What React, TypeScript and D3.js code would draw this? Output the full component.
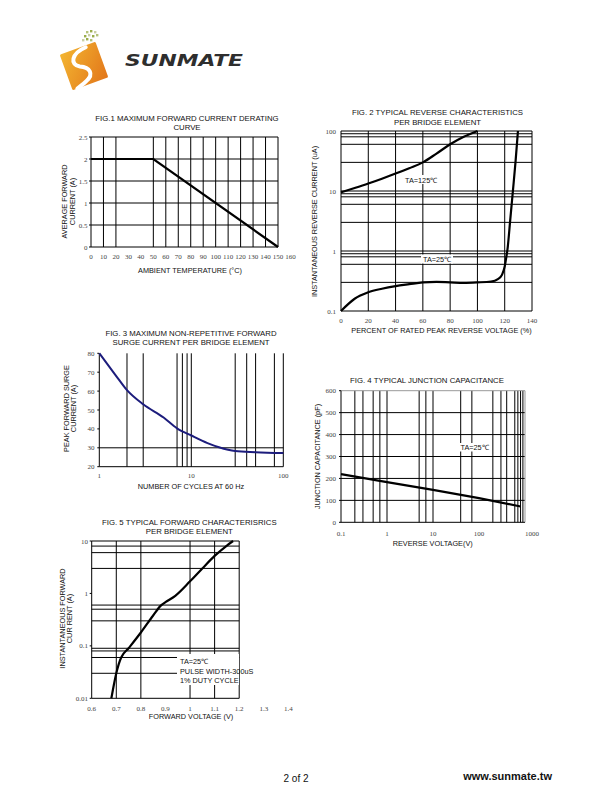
import React from 'react';
import * as d3 from 'd3';

// ---------- data ----------
// Fig.1 derating curve
const fig1Temp = [0, 50, 150];
const fig1Current = [2, 2, 0];
const fig1XTicks = [0, 10, 20, 30, 40, 50, 60, 70, 80, 90, 100, 110, 120, 130, 140, 150, 160];
const fig1YTicks = [0, 0.5, 1, 1.5, 2, 2.5];
const fig1XGrid = [10, 20, 50, 60, 70, 80, 90, 100, 110, 120, 130, 140, 150];

// Fig.2 reverse characteristics
const fig2HotVoltage = [0, 10, 20, 30, 40, 50, 60, 70, 80, 90, 100];
const fig2HotCurrent = [9.5, 11.2, 13.3, 16, 19.5, 24, 30, 42, 60, 80, 100];
const fig2ColdVoltage = [0, 10, 20, 30, 40, 50, 60, 70, 80, 90, 100, 110, 115, 118, 120, 121, 122, 124, 126, 128, 129.7];
const fig2ColdCurrent = [0.1, 0.16, 0.205, 0.235, 0.26, 0.28, 0.3, 0.305, 0.3, 0.295, 0.3, 0.31, 0.34, 0.4, 0.55, 0.75, 1.05, 3.2, 10, 32, 100];
const fig2XTicks = [0, 20, 40, 60, 80, 100, 120, 140];
const fig2YTicks = [0.1, 1, 10, 100];
const fig2YGrid = [0.3, 0.6, 0.8, 0.9, 1, 3, 6, 8, 9, 10, 30, 60, 80, 90, 100];

// Fig.3 surge current
const fig3Cycles = [1, 1.5, 2, 3, 5, 7, 10, 15, 20, 30, 50, 100];
const fig3Current = [80, 68.5, 60.5, 53, 46, 40.3, 36.5, 32.5, 30.3, 28.3, 27.7, 27.2];
const fig3XTicks = [1, 10, 100];
const fig3YTicks = [20, 30, 40, 50, 60, 70, 80];
const fig3XGrid = [2, 3, 7, 8, 9, 10, 30, 40, 50, 80, 100];

// Fig.4 junction capacitance
const fig4Voltage = [0.1, 1, 10, 100, 800];
const fig4Cap = [220, 183, 148, 110, 72];
const fig4XTicks = [0.1, 1, 10, 100, 1000];
const fig4YTicks = [0, 100, 200, 300, 400, 500, 600];
const fig4XGrid = [0.2, 0.3, 0.5, 0.7, 1, 5, 7, 10, 40, 70, 200, 300, 400, 600, 700, 800, 900];

// Fig.5 forward characteristics
const fig5Voltage = [0.68, 0.69, 0.7, 0.71, 0.72, 0.75, 0.8, 0.85, 0.88, 0.9, 0.94, 1.0, 1.05, 1.1, 1.15, 1.175];
const fig5Current = [0.01, 0.018, 0.03, 0.045, 0.06, 0.09, 0.18, 0.38, 0.58, 0.68, 0.9, 1.7, 3, 5.2, 8.2, 10];
const fig5XTicks = [0.6, 0.7, 0.8, 0.9, 1, 1.1, 1.2, 1.3, 1.4];
const fig5YTicks = [0.01, 0.1, 1, 10];
const fig5XGrid = [0.7, 0.8, 1.0, 1.1, 1.2];
const fig5YGrid = [0.03, 0.06, 0.08, 0.09, 0.3, 0.5, 0.6, 3, 6, 8, 10];

const SANS = '"Liberation Sans", Arial, Helvetica, sans-serif';
const SERIF = '"Liberation Serif", "Times New Roman", serif';
const TICK = { fontFamily: SERIF, fontSize: 7, fill: '#444' };
const TITLE = { fontFamily: SANS, fontSize: 7.8, fill: '#111' };
const AXT = 7.3;

type Scale = (v: number) => number;

const vGrid = (x: Scale, vals: number[], y0: number, y1: number, key: string, stroke = '#000') =>
  vals.map((v, i) => (
    <line key={key + i} x1={x(v)} x2={x(v)} y1={y0} y2={y1} stroke={stroke} strokeWidth={1} />
  ));

const hGrid = (y: Scale, vals: number[], x0: number, x1: number, key: string, stroke = '#000') =>
  vals.map((v, i) => (
    <line key={key + i} x1={x0} x2={x1} y1={y(v)} y2={y(v)} stroke={stroke} strokeWidth={1} />
  ));

const yTitle = (lines: string[], x: number, y: number, gap = 8.5) =>
  lines.map((t, i) => (
    <text key={t} transform={`translate(${x + i * gap},${y}) rotate(-90)`} textAnchor="middle" {...TITLE} fontSize={AXT}>
      {t}
    </text>
  ));

const fmt = (v: number) => String(v);

function Fig1() {
  const x = d3.scaleLinear().domain([0, 150]).range([91, 278]);
  const y = d3.scaleLinear().domain([0, 2.5]).range([247, 137]);
  const line = d3.line<number>().x((_, i) => x(fig1Temp[i])).y(d => y(d));
  return (
    <g>
      <text x={187} y={121} textAnchor="middle" {...TITLE}>FIG.1 MAXIMUM FORWARD CURRENT DERATING</text>
      <text x={187} y={129.5} textAnchor="middle" {...TITLE}>CURVE</text>
      {vGrid(x, fig1XGrid, y(2.5), y(0), 'f1v')}
      {hGrid(y, fig1YTicks, x(0), x(150), 'f1h')}
      <line x1={x(0)} x2={x(0)} y1={y(2.5)} y2={y(0)} stroke="#000" />
      {fig1YTicks.map(v => (
        <g key={'f1yt' + v}>
          <line x1={x(0) - 2} x2={x(0)} y1={y(v)} y2={y(v)} stroke="#000" />
          <text x={87.5} y={y(v) + 2.5} textAnchor="end" {...TICK}>{fmt(v)}</text>
        </g>
      ))}
      {fig1XTicks.map(v => (
        <text key={'f1xt' + v} x={x(v)} y={258.5} textAnchor="middle" {...TICK}>{fmt(v)}</text>
      ))}
      <path d={line(fig1Current) || ''} fill="none" stroke="#000" strokeWidth={2.2} />
      <text x={190} y={272.5} textAnchor="middle" {...TITLE} fontSize={AXT}>AMBIENT TEMPERATURE (°C)</text>
      {yTitle(['AVERAGE FORWARD', 'CURRENT (A)'], 66.5, 201.5)}
    </g>
  );
}

function Fig2() {
  const x = d3.scaleLinear().domain([0, 140]).range([341, 532]);
  const y = d3.scaleLog().domain([0.1, 100]).range([311, 131]);
  const curve = (xs: number[]) =>
    d3.line<number>().x((_, i) => x(xs[i])).y(d => y(d)).curve(d3.curveMonotoneX);
  return (
    <g>
      <text x={437.5} y={115} textAnchor="middle" {...TITLE}>FIG. 2 TYPICAL REVERSE CHARACTERISTICS</text>
      <text x={437.5} y={125} textAnchor="middle" {...TITLE}>PER BRIDGE ELEMENT</text>
      {vGrid(x, fig2XTicks.slice(1), y(100), y(0.1), 'f2v')}
      {hGrid(y, fig2YGrid, x(0), x(140), 'f2h')}
      <line x1={x(0)} x2={x(0)} y1={y(100)} y2={y(0.1)} stroke="#000" />
      <line x1={x(0)} x2={x(140)} y1={y(0.1)} y2={y(0.1)} stroke="#000" />
      {fig2YTicks.map(v => (
        <text key={'f2yt' + v} x={336} y={y(v) + 2.5} textAnchor="end" {...TICK}>{fmt(v)}</text>
      ))}
      {fig2XTicks.map(v => (
        <text key={'f2xt' + v} x={x(v)} y={322.5} textAnchor="middle" {...TICK}>{fmt(v)}</text>
      ))}
      <path d={curve(fig2HotVoltage)(fig2HotCurrent) || ''} fill="none" stroke="#000" strokeWidth={2.2} />
      <path d={curve(fig2ColdVoltage)(fig2ColdCurrent) || ''} fill="none" stroke="#000" strokeWidth={2.2} />
      <rect x={403} y={175} width={35} height={9} fill="#fff" />
      <text x={405} y={182.5} {...TITLE} fontSize={AXT}>TA=125℃</text>
      <rect x={421} y={254.5} width={32} height={9} fill="#fff" />
      <text x={423} y={262} {...TITLE} fontSize={AXT}>TA=25℃</text>
      <text x={441.5} y={332.7} textAnchor="middle" {...TITLE} fontSize={AXT}>PERCENT OF RATED PEAK REVERSE VOLTAGE (%)</text>
      {yTitle(['INSTANTANEOUS  REVERSE CURRENT (uA)'], 317, 221.5)}
    </g>
  );
}

function Fig3() {
  const x = d3.scaleLog().domain([1, 100]).range([99.3, 283.3]);
  const y = d3.scaleLinear().domain([20, 80]).range([466.7, 353.3]);
  const line = d3.line<number>().x((_, i) => x(fig3Cycles[i])).y(d => y(d)).curve(d3.curveMonotoneX);
  return (
    <g>
      <text x={191} y={336} textAnchor="middle" {...TITLE}>FIG. 3 MAXIMUM  NON-REPETITIVE FORWARD</text>
      <text x={191} y={344.5} textAnchor="middle" {...TITLE}>SURGE CURRENT PER BRIDGE ELEMENT</text>
      {vGrid(x, fig3XGrid, y(80), y(20), 'f3v')}
      {hGrid(y, [30], x(1), x(100), 'f3h')}
      <line x1={x(1)} x2={x(1)} y1={y(80)} y2={y(20)} stroke="#000" />
      <line x1={x(1)} x2={x(100)} y1={y(20)} y2={y(20)} stroke="#000" />
      {fig3YTicks.map(v => (
        <g key={'f3yt' + v}>
          <line x1={x(1) - 2} x2={x(1)} y1={y(v)} y2={y(v)} stroke="#000" />
          <text x={94.5} y={y(v) + 2.5} textAnchor="end" {...TICK}>{fmt(v)}</text>
        </g>
      ))}
      {fig3XTicks.map(v => (
        <text key={'f3xt' + v} x={x(v)} y={478} textAnchor="middle" {...TICK}>{fmt(v)}</text>
      ))}
      <path d={line(fig3Current) || ''} fill="none" stroke="#1c1c7c" strokeWidth={2} />
      <text x={191} y={489.3} textAnchor="middle" {...TITLE} fontSize={AXT}>NUMBER OF CYCLES AT 60 Hz</text>
      {yTitle(['PEAK FORWARD SURGE', 'CURRENT (A)'], 68.5, 408.5, 7.5)}
    </g>
  );
}

function Fig4() {
  const x = d3.scaleLog().domain([0.1, 1000]).range([341, 525]);
  const y = d3.scaleLinear().domain([0, 600]).range([522.3, 390.7]);
  const line = d3.line<number>().x((_, i) => x(fig4Voltage[i])).y(d => y(d));
  return (
    <g>
      <text x={427} y={382.7} textAnchor="middle" {...TITLE}>FIG. 4 TYPICAL JUNCTION CAPACITANCE</text>
      {vGrid(x, fig4XGrid, y(600), y(0), 'f4v')}
      {hGrid(y, fig4YTicks.slice(1, -1), x(0.1), x(1000), 'f4h')}
      <line x1={x(0.1)} x2={x(1000)} y1={y(600)} y2={y(600)} stroke="#999" />
      <line x1={x(1000)} x2={x(1000)} y1={y(600)} y2={y(0)} stroke="#999" />
      <line x1={x(0.1)} x2={x(0.1)} y1={y(600)} y2={y(0)} stroke="#000" />
      <line x1={x(0.1)} x2={x(1000)} y1={y(0)} y2={y(0)} stroke="#000" />
      {fig4YTicks.map(v => (
        <g key={'f4yt' + v}>
          <line x1={x(0.1) - 2} x2={x(0.1)} y1={y(v)} y2={y(v)} stroke="#000" />
          <text x={336} y={y(v) + 2.5} textAnchor="end" {...TICK}>{fmt(v)}</text>
        </g>
      ))}
      {fig4XTicks.map(v => (
        <text key={'f4xt' + v} x={v === 1000 ? x(v) + 7 : x(v)} y={535.7} textAnchor="middle" {...TICK}>{fmt(v)}</text>
      ))}
      <path d={line(fig4Cap) || ''} fill="none" stroke="#000" strokeWidth={2.2} />
      <rect x={459} y={443} width={30} height={8.5} fill="#fff" />
      <text x={460.5} y={450} {...TITLE} fontSize={AXT}>TA=25℃</text>
      <text x={432.7} y={546.3} textAnchor="middle" {...TITLE} fontSize={AXT}>REVERSE VOLTAGE(V)</text>
      {yTitle(['JUNCTION CAPACITANCE (pF)'], 320, 456.5)}
    </g>
  );
}

function Fig5() {
  const x = d3.scaleLinear().domain([0.6, 1.2]).range([91.7, 239.2]);
  const y = d3.scaleLog().domain([0.01, 10]).range([698.3, 541]);
  const line = d3.line<number>().x((_, i) => x(fig5Voltage[i])).y(d => y(d)).curve(d3.curveMonotoneX);
  return (
    <g>
      <text x={189.3} y={525} textAnchor="middle" {...TITLE}>FIG. 5 TYPICAL FORWARD CHARACTERISRICS</text>
      <text x={189.3} y={534} textAnchor="middle" {...TITLE}>PER BRIDGE ELEMENT</text>
      {vGrid(x, fig5XGrid, y(10), y(0.01), 'f5v')}
      {hGrid(y, fig5YGrid, x(0.6), x(1.2), 'f5h')}
      <line x1={x(0.6)} x2={x(0.6)} y1={y(10)} y2={y(0.01)} stroke="#000" />
      <line x1={x(0.6)} x2={x(1.2)} y1={y(0.01)} y2={y(0.01)} stroke="#000" />
      {fig5YTicks.map(v => (
        <g key={'f5yt' + v}>
          <line x1={x(0.6) - 2} x2={x(0.6)} y1={y(v)} y2={y(v)} stroke="#000" />
          <text x={88} y={y(v) + 2.5} textAnchor="end" {...TICK}>{fmt(v)}</text>
        </g>
      ))}
      {fig5XTicks.map(v => (
        <text key={'f5xt' + v} x={x(v)} y={711} textAnchor="middle" {...TICK}>{fmt(v)}</text>
      ))}
      <rect x={177} y={654} width={62} height={31} fill="#fff" />
      <path d={line(fig5Current) || ''} fill="none" stroke="#000" strokeWidth={2.2} />
      <text x={180} y={664} {...TITLE} fontSize={AXT}>TA=25℃</text>
      <text x={180} y={673.5} {...TITLE} fontSize={AXT}>PULSE WIDTH-300uS</text>
      <text x={180} y={683} {...TITLE} fontSize={AXT}>1% DUTY CYCLE</text>
      <text x={191} y={719.3} textAnchor="middle" {...TITLE} fontSize={AXT}>FORWARD VOLTAGE (V)</text>
      {yTitle(['INSTANTANEOUS FORWARD', 'CUR RENT (A)'], 64.5, 618.5, 7)}
    </g>
  );
}

function Logo() {
  const dots = [
    [86, 31, '#b5c27a'], [90, 30, '#9aad4a'], [94, 31, '#c9cfa5'],
    [84, 35, '#9aad4a'], [88, 34, '#c9cfa5'], [92, 35, '#9aad4a'], [96, 34, '#b5c27a'],
    [82, 39, '#c9cfa5'], [86, 38, '#9aad4a'], [90, 39, '#b5c27a'],
  ] as [number, number, string][];
  return (
    <g>
      <defs>
        <linearGradient id="logoGrad" x1="0" y1="0" x2="1" y2="1">
          <stop offset="0" stopColor="#f3b531" />
          <stop offset="1" stopColor="#e2761a" />
        </linearGradient>
      </defs>
      {dots.map(([cx, cy, c], i) => (
        <rect key={'d' + i} x={cx} y={cy} width={2.4} height={2.4} fill={c} />
      ))}
      <g transform="translate(84,66) rotate(-20)">
        <rect x={-19} y={-19} width={38} height={38} rx={1.5} fill="url(#logoGrad)" />
        <path d="M 8 -17 C -8 -16, -13 -6, -4 -1 C 5 3, 7 11, -3 15 C -7 17, -12 18, -14 19"
          fill="none" stroke="#fff" strokeWidth={4} strokeLinecap="round" />
      </g>
      <text x={125} y={66} fontFamily='"DejaVu Sans", sans-serif' fontSize={15} fontWeight={900}
        fontStyle="italic" fill="#2e2e2e" textLength={118} lengthAdjust="spacingAndGlyphs">
        SUNMATE
      </text>
    </g>
  );
}

export default function App() {
  return (
    <svg width={610} height={810} viewBox="0 0 610 810"
      style={{ position: 'absolute', left: 0, top: 0, background: '#fff' }}>
      <rect width={610} height={810} fill="#fff" />
      <Logo />
      <Fig1 />
      <Fig2 />
      <Fig3 />
      <Fig4 />
      <Fig5 />
      <text x={296} y={781.5} textAnchor="middle" fontFamily={SANS} fontSize={10} fill="#111">2 of 2</text>
      <text x={552} y={780} textAnchor="end" fontFamily={SANS} fontSize={11} fontWeight="bold" fill="#111">www.sunmate.tw</text>
    </svg>
  );
}
